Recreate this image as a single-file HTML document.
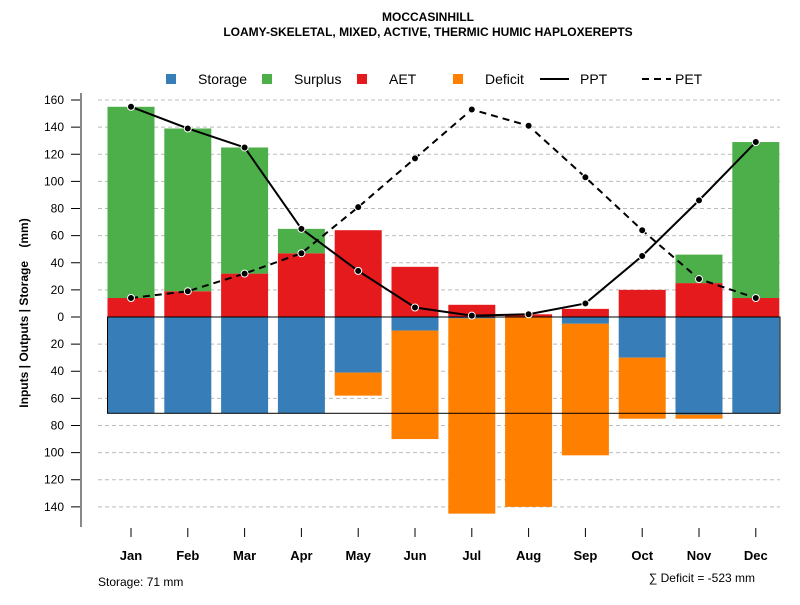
<!DOCTYPE html>
<html><head><meta charset="utf-8"><style>
body{margin:0;background:#fff}
svg{font-family:"Liberation Sans",sans-serif}
</style></head><body>
<svg id="c" width="800" height="600">
<text x="428" y="21" text-anchor="middle" font-size="12" font-weight="bold">MOCCASINHILL</text>
<text x="428" y="36" text-anchor="middle" font-size="12" font-weight="bold">LOAMY-SKELETAL, MIXED, ACTIVE, THERMIC HUMIC HAPLOXEREPTS</text>
<g id="legend"></g>
<g id="grid"></g><g id="bars"></g><g id="lines"></g><g id="axes"></g>
<text x="28" y="313" transform="rotate(-90 28 313)" text-anchor="middle" font-size="12" font-weight="bold" style="white-space:pre">Inputs | Outputs | Storage    (mm)</text>
<text x="98" y="586" font-size="12">Storage: 71 mm</text>
<text x="755" y="582" text-anchor="end" font-size="12">∑ Deficit = -523 mm</text>
</svg>
<script>
const months=["Jan","Feb","Mar","Apr","May","Jun","Jul","Aug","Sep","Oct","Nov","Dec"];
const ppt=[155,139,125,65,34,7,1,2,10,45,86,129];
const pet=[14,19,32,47,81,117,153,141,103,64,28,14];
const aet=[14,19,32,47,64,37,9,2,6,20,25,14];
const surplus=[141,120,93,18,0,0,0,0,0,0,21,115];
const storage=[71,71,71,71,41,10,1,0,5,30,72,71];
const deficit=[0,0,0,0,17,80,144,140,97,45,3,0];
const yTicks=[160,140,120,100,80,60,40,20,0,-20,-40,-60,-80,-100,-120,-140];
const NS="http://www.w3.org/2000/svg";
const y=v=>317-v*1.3562;
const x=i=>131+i*56.8;
const bw=47;
function mk(p,t,a){const e=document.createElementNS(NS,t);for(const k in a)e.setAttribute(k,a[k]);document.getElementById(p).appendChild(e);return e;}
yTicks.forEach(t=>{
 if(t!==0){const g=mk('grid','line',{x1:98,x2:780,y1:y(t),y2:y(t),stroke:'#bbb','stroke-dasharray':'4,3'});
 
 }
 const tk=mk('axes','line',{x1:71,x2:81,y1:y(t),y2:y(t),stroke:'#000'});
 
 
 const l=mk('axes','text',{x:64,y:y(t)+4,'text-anchor':'end','font-size':12});
 l.textContent=Math.abs(t);
 
 
});
const ax=mk('axes','line',{x1:81,x2:81,y1:93,y2:527,stroke:'#888','stroke-width':2});


function bar(i,v0,v1,col,name){const r=mk('bars','rect',{x:x(i)-bw/2,y:Math.min(y(v0),y(v1)),width:bw,height:Math.abs(y(v0)-y(v1)),fill:col});
 
 }
months.forEach((m,i)=>{
 bar(i,0,aet[i],'#e41a1c','aet-bar-'+m.toLowerCase());
 if(surplus[i]>0)bar(i,aet[i],aet[i]+surplus[i],'#4daf4a','surplus-bar-'+m.toLowerCase());
 if(storage[i]>0)bar(i,0,-storage[i],'#377eb8','storage-bar-'+m.toLowerCase());
 if(deficit[i]>0)bar(i,-storage[i],-storage[i]-deficit[i],'#ff7f00','deficit-bar-'+m.toLowerCase());
 const t=mk('axes','line',{x1:x(i),x2:x(i),y1:528,y2:537,stroke:'#000'});
 
 
 const l=mk('axes','text',{x:x(i),y:560,'text-anchor':'middle','font-size':13,'font-weight':'bold'});
 l.textContent=m;
 
 
});
const sb=mk('bars','rect',{x:x(0)-bw/2,y:y(0),width:780-(x(0)-bw/2),height:y(-71)-y(0),fill:'none',stroke:'#000','stroke-width':1});


function series(arr,dash,name){
 const p=mk('lines','polyline',{points:arr.map((v,i)=>x(i)+','+y(v)).join(' '),fill:'none',stroke:'#000','stroke-width':2,'stroke-dasharray':dash});
 
 
 arr.forEach((v,i)=>{const c=mk('lines','circle',{cx:x(i),cy:y(v),r:3.5,fill:'#000',stroke:'#fff','stroke-width':1});
  
  });
}
series(pet,'7,5','pet');
series(ppt,'none','ppt');
const leg=[["Storage",'#377eb8',166,198],["Surplus",'#4daf4a',262,294],["AET",'#e41a1c',357,389],["Deficit",'#ff7f00',453,485]];
leg.forEach(d=>{
 const r=mk('legend','rect',{x:d[2],y:74,width:10,height:10,fill:d[1]});
 
 
 const t=mk('legend','text',{x:d[3],y:84,'font-size':14});
 t.textContent=d[0];
 
 
});
[["PPT",540,580,'none'],["PET",642,675,'7,5']].forEach(d=>{
 const l=mk('legend','line',{x1:d[1],x2:d[1]+29,y1:79,y2:79,stroke:'#000','stroke-width':2,'stroke-dasharray':d[3]});
 
 
 const t=mk('legend','text',{x:d[2],y:84,'font-size':14});
 t.textContent=d[0];
 
 
});
</script>
</body></html>
